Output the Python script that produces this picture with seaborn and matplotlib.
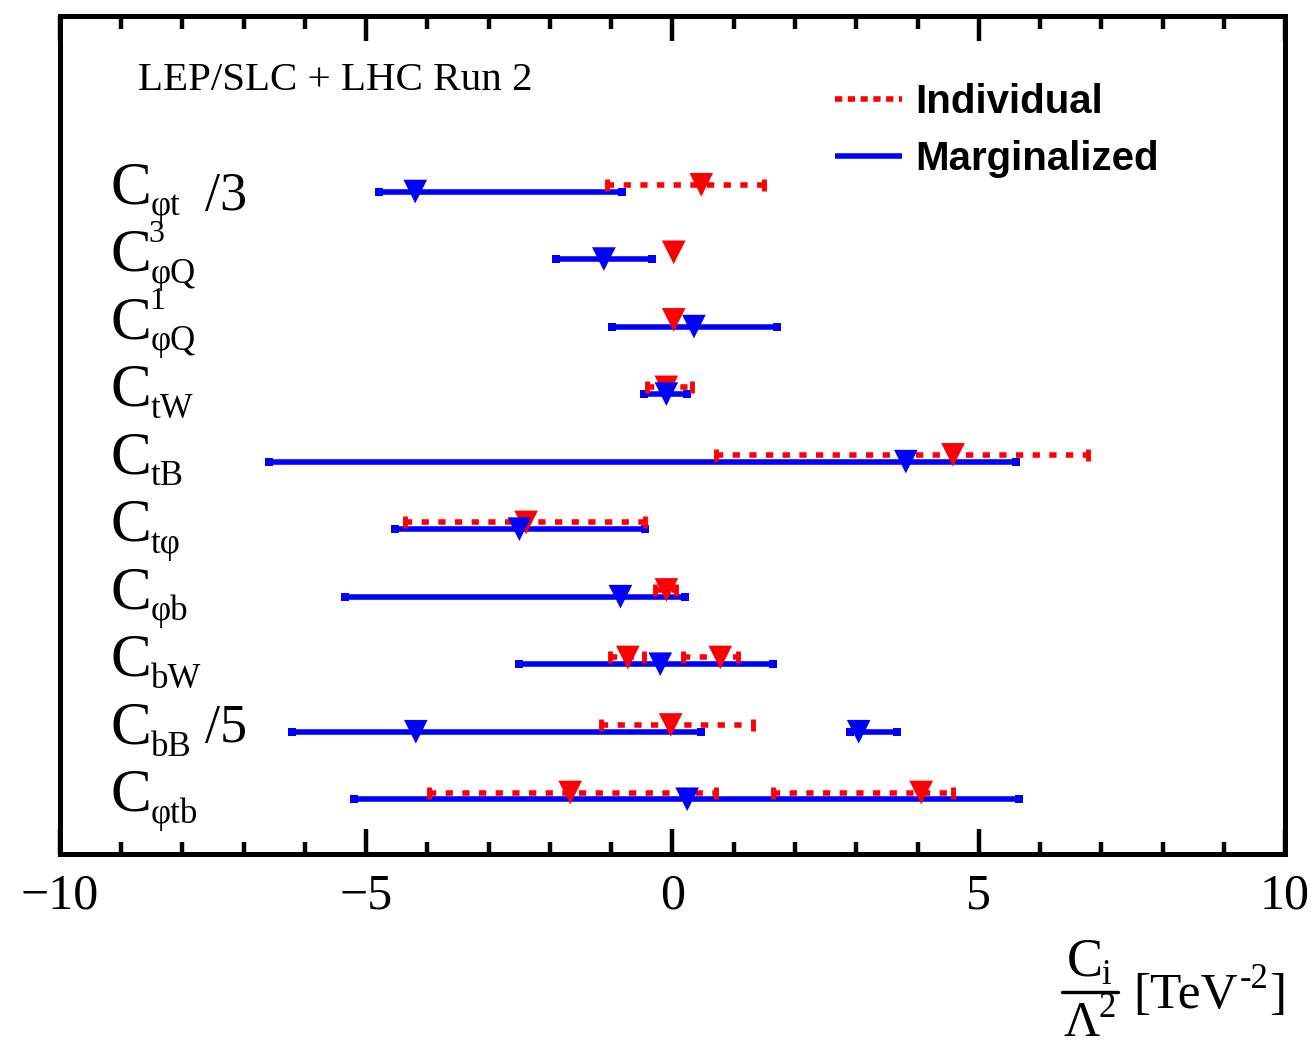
import pandas as pd
import matplotlib.pyplot as plt
from matplotlib.lines import Line2D
from matplotlib.ticker import MultipleLocator
import seaborn as sns

# ---- data (units of TeV^-2) ----
label_subs = ["φt", "φQ", "φQ", "tW", "tB", "tφ", "φb", "bW", "bB", "φtb"]
label_sups = ["", "3", "1", "", "", "", "", "", "", ""]
scale_notes = ["/3", "", "", "", "", "", "", "", "/5", ""]

# individual fits (some coefficients have two allowed intervals)
indiv_lo = [[-1.07], [0.00], [0.00], [-0.41], [0.71], [-4.37], [-0.29], [-1.02, 0.17], [-1.17], [-3.98, 1.64]]
indiv_hi = [[1.49], [0.05], [0.05], [0.32], [6.79], [-0.45], [0.06], [-0.47, 1.07], [1.31], [0.71, 4.58]]
indiv_best = [[0.47], [0.02], [0.02], [-0.10], [4.58], [-2.39], [-0.10], [-0.73, 0.78], [-0.03], [-1.67, 4.06]]

# marginalized fits
marg_lo = [[-4.79], [-1.90], [-0.99], [-0.47], [-6.59], [-4.53], [-5.35], [-2.50], [-6.21, 2.90], [-5.20]]
marg_hi = [[-0.82], [-0.33], [1.71], [0.24], [5.60], [-0.45], [0.20], [1.64], [0.46, 3.66], [5.65]]
marg_best = [[-4.20], [-1.12], [0.35], [-0.10], [3.81], [-2.50], [-0.85], [-0.20], [-4.19, 3.04], [0.24]]

sns.set_theme(style="ticks")
plt.rcParams["font.family"] = ["Liberation Serif", "DejaVu Serif"]
plt.rcParams["text.color"] = "black"
plt.rcParams["xtick.color"] = "black"
plt.rcParams["axes.unicode_minus"] = True

RED = "#ff0000"
BLUE = "#0000ff"
W, H = 1315, 1046

fig = plt.figure(figsize=(W / 100, H / 100), dpi=100)
ax = fig.add_axes([0.0456, 0.1836, 0.9316, 0.8011])

n = len(label_subs)
rows = [n - i for i in range(n)]

# ---- interval lines ----
for i, y in enumerate(rows):
    for lo, hi in zip(marg_lo[i], marg_hi[i]):
        ax.plot([lo, hi], [y - 0.05, y - 0.05], color=BLUE, lw=4.0,
                solid_capstyle="butt", zorder=2)
        ax.plot([lo, hi], [y - 0.05, y - 0.05], ls="none", marker="s", ms=5.5,
                mew=0, color=BLUE, zorder=2)
    for lo, hi in zip(indiv_lo[i], indiv_hi[i]):
        if hi - lo > 0.1:
            ax.plot([lo, hi], [y + 0.05, y + 0.05], color=RED, lw=4.0,
                    ls=(0, (1.3, 1.7)), dash_capstyle="butt", zorder=2.5)
            ax.plot([lo, hi], [y + 0.05, y + 0.05], ls="none", marker="|", ms=9,
                    mew=3.5, color=RED, zorder=2.5)

# ---- best-fit markers ----
recs = []
for i, y in enumerate(rows):
    for b in indiv_best[i]:
        recs.append(("Individual", b, y + 0.05))
for i, y in enumerate(rows):
    for b in marg_best[i]:
        recs.append(("Marginalized", b, y - 0.05))
df = pd.DataFrame(recs, columns=["fit", "value", "ypos"])
sns.scatterplot(data=df, x="value", y="ypos", hue="fit",
                palette={"Individual": RED, "Marginalized": BLUE},
                marker="v", s=290, linewidth=0, legend=False, ax=ax, zorder=3)

# ---- row labels: big C with smaller sub/superscripts ----
note_dy = [-0.32, 0, 0, 0, 0, 0, 0, 0, -0.2, 0]
for i, y in enumerate(rows):
    c = ax.text(-9.17, y - 0.22, "C", fontsize=44, ha="left", va="baseline")
    ax.annotate(label_subs[i], xy=(1, 0), xycoords=c, xytext=(-0.5, 0.5),
                textcoords="offset points", fontsize=25, ha="left", va="baseline")
    if label_sups[i]:
        ax.annotate(label_sups[i], xy=(1, 0), xycoords=c, xytext=(-2, 30),
                    textcoords="offset points", fontsize=23, ha="left", va="baseline")
    if scale_notes[i]:
        ax.text(-7.63, y + note_dy[i], scale_notes[i], fontsize=39, ha="left", va="baseline")

ax.text(-8.73, 11.45, "LEP/SLC + LHC Run 2", fontsize=29.5, ha="left", va="baseline")

# ---- axes ----
ax.set_xlim(-10, 10)
ax.set_ylim(0.14, 12.55)
ax.set_xlabel("")
ax.set_ylabel("")
ax.set_yticks([])
ax.xaxis.set_major_locator(MultipleLocator(5))
ax.xaxis.set_minor_locator(MultipleLocator(1))
ax.tick_params(axis="x", which="both", direction="in", top=True, bottom=True,
               width=3.2, labelsize=36, pad=14, colors="black")
ax.tick_params(axis="x", which="major", length=18)
ax.tick_params(axis="x", which="minor", length=9)
for sp in ax.spines.values():
    sp.set_visible(True)
    sp.set_linewidth(3.6)
    sp.set_color("black")

# ---- legend ----
handles = [Line2D([], [], color=RED, lw=4.0, ls=(0, (1.3, 1.0)), dash_capstyle="butt"),
           Line2D([], [], color=BLUE, lw=4.0, solid_capstyle="butt")]
leg = ax.legend(handles, ["Individual", "Marginalized"], loc="upper left",
                bbox_to_anchor=(0.633, 0.92), frameon=False, borderpad=0,
                borderaxespad=0, handlelength=1.65, handletextpad=0.33,
                labelspacing=0.48,
                prop={"family": "Liberation Sans", "weight": "bold", "size": 29})
for t in leg.get_texts():
    t.set_color("black")

# ---- x label built from pieces: C_i / Lambda^2 [TeV^-2] ----
def fx(px):
    return px / W

def fy(py):
    return 1 - py / H

fig.text(fx(1067), fy(975), "C", fontsize=39, ha="left", va="baseline")
fig.text(fx(1101), fy(984), "i", fontsize=25, ha="left", va="baseline")
fig.add_artist(Line2D([fx(1062), fx(1118)], [fy(992), fy(992)], color="black", lw=2.4))
fig.text(fx(1063), fy(1036), "Λ", fontsize=36, ha="left", va="baseline")
fig.text(fx(1099), fy(1017), "2", fontsize=25, ha="left", va="baseline")
fig.text(fx(1133), fy(1008), "[TeV", fontsize=37, ha="left", va="baseline")
fig.text(fx(1240), fy(988), "-2", fontsize=25, ha="left", va="baseline")
fig.text(fx(1286), fy(1008), "]", fontsize=37, ha="right", va="baseline")

fig.savefig("out.png", dpi=100)
